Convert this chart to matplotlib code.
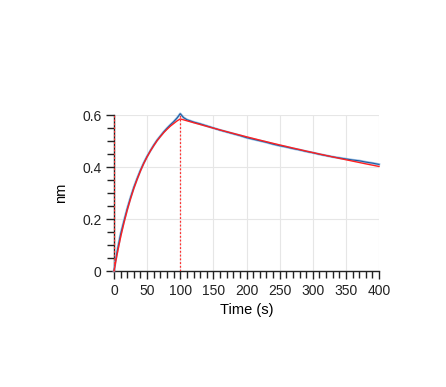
import matplotlib
matplotlib.use("Agg")
import matplotlib.pyplot as plt
from matplotlib.ticker import MultipleLocator

plt.rcParams['font.family'] = ['Liberation Sans', 'DejaVu Sans']

# Measured response (blue)
t_assoc = [0, 2, 5, 10, 15, 20, 25, 30, 35, 40, 45, 50, 55, 60, 65, 70, 75, 80, 85, 90, 95, 100]
y_assoc = [0.0, 0.035, 0.078, 0.142, 0.192, 0.240, 0.283, 0.322, 0.356, 0.388, 0.416, 0.441,
           0.463, 0.484, 0.503, 0.519, 0.535, 0.549, 0.562, 0.574, 0.588, 0.605]
t_dissoc = [100, 105, 110, 120, 130, 140, 150, 160, 170, 180, 190, 200, 210, 220, 230, 240, 250,
            260, 270, 280, 290, 300, 310, 320, 330, 340, 350, 360, 370, 380, 390, 400]
y_dissoc = [0.605, 0.590, 0.582, 0.573, 0.566, 0.558, 0.550, 0.542, 0.535, 0.528, 0.521, 0.513,
            0.507, 0.501, 0.495, 0.488, 0.482, 0.477, 0.471, 0.466, 0.460, 0.455, 0.449,
            0.444, 0.439, 0.435, 0.431, 0.427, 0.424, 0.419, 0.415, 0.410]

# Fit (red)
t_fit = [0, 5, 10, 15, 20, 25, 30, 35, 40, 45, 50, 55, 60, 65, 70, 75, 80, 85, 90, 95, 100,
         120, 140, 160, 180, 200, 220, 240, 260, 280, 300, 320, 340, 360, 380, 400]
y_fit = [0.0, 0.0685, 0.130, 0.185, 0.234, 0.278, 0.318, 0.353, 0.385, 0.414, 0.439, 0.462,
         0.482, 0.501, 0.517, 0.532, 0.545, 0.557, 0.567, 0.577, 0.585,
         0.5706, 0.5565, 0.5427, 0.5293, 0.5163, 0.5035, 0.4911, 0.4790, 0.4671, 0.4556,
         0.4444, 0.4334, 0.4227, 0.4122, 0.4021]

step_times = [0, 100]

fig = plt.figure(figsize=(4.46, 3.87), dpi=100)
ax = fig.add_axes([0.2556, 0.2997, 0.8498 - 0.2556, 0.7028 - 0.2997])

t_meas = t_assoc + t_dissoc[1:]
y_meas = y_assoc + y_dissoc[1:]
ax.plot(t_meas, y_meas, color='#9cc2e6', lw=1.8, clip_on=False, zorder=3)
ax.plot(t_meas, y_meas, color='#1f5a9e', lw=0.8, clip_on=False, zorder=4)
ax.plot(t_fit, y_fit, color='#ff2020', lw=1.0, clip_on=False, zorder=5)

for st in step_times:
    ax.axvline(st, color='#ff3030', lw=0.9, ls=(0, (1.5, 1.5)), zorder=6)

ax.set_xlim(0, 400)
ax.set_ylim(0, 0.6)
ax.xaxis.set_major_locator(MultipleLocator(50))
ax.xaxis.set_minor_locator(MultipleLocator(10))
ax.yaxis.set_major_locator(MultipleLocator(0.2))
ax.yaxis.set_minor_locator(MultipleLocator(0.05))
ax.set_yticks([0, 0.2, 0.4, 0.6])
ax.set_yticklabels(['0', '0.2', '0.4', '0.6'])

ax.grid(True, which='major', color='#e6e6e6', lw=0.8)
ax.set_axisbelow(True)
for s in ['top', 'right']:
    ax.spines[s].set_visible(False)
for s in ['left', 'bottom']:
    ax.spines[s].set_color('#222222')
    ax.spines[s].set_linewidth(1.0)

ax.tick_params(which='major', direction='out', length=6, width=1, labelsize=10,
               colors='#222222', pad=3)
ax.tick_params(which='minor', direction='out', length=5, width=1, colors='#222222')

ax.set_xlabel('Time (s)', fontsize=10.5, labelpad=4)
ax.set_ylabel('nm', fontsize=10.5, labelpad=10)

fig.savefig('out.png', dpi=100)
